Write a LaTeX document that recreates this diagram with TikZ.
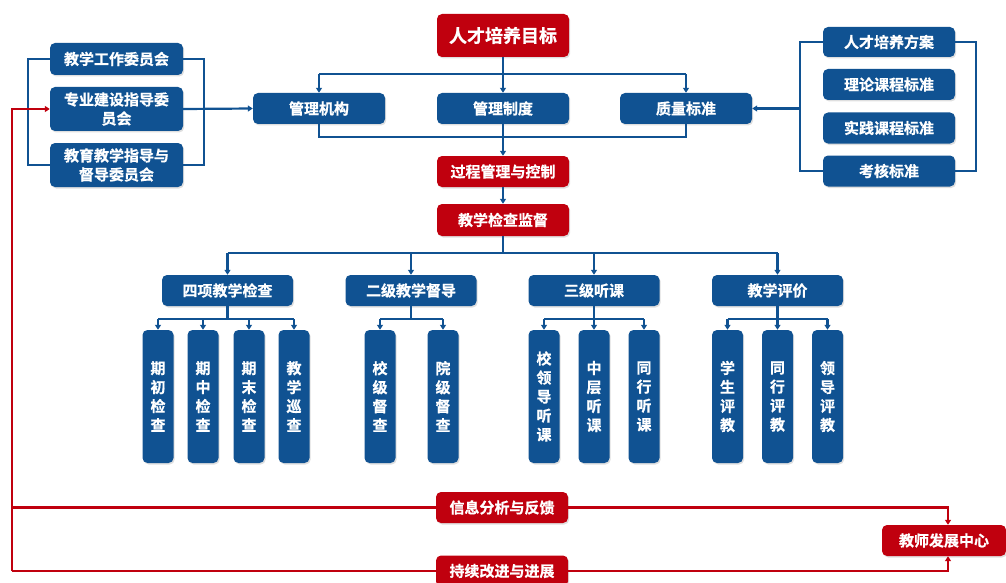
\documentclass[tikz,border=0pt]{standalone}
\usepackage{fontspec}
\newfontfamily\cjk[FakeBold=0.7]{Noto Sans CJK SC Bold}
\usetikzlibrary{arrows.meta,shadows}
\definecolor{myblue}{RGB}{16,82,146}
\definecolor{myred}{RGB}{192,0,14}
\begin{document}
\begin{tikzpicture}[x=1pt,y=-1pt,
  box/.style={rounded corners=5pt, text=white, inner sep=0pt, align=center,
    minimum width=132pt, minimum height=31pt,
    font=\cjk\fontsize{15}{19}\selectfont,
    drop shadow={shadow xshift=1.2pt, shadow yshift=-1.5pt, opacity=0.25}},
  bbx/.style={box, fill=myblue},
  rbx/.style={box, fill=myred},
  leaf/.style={bbx, minimum width=31pt, minimum height=133pt},
  bl/.style={draw=myblue, line width=2.2pt},
  rl/.style={draw=myred, line width=2.3pt},
  arr/.style={-{Triangle[length=5pt,width=6pt]}}
]
\useasboundingbox (0,0) rectangle (1006,583);

% top part
\node[rbx, minimum height=43pt, font=\cjk\fontsize{18}{20}\selectfont] (goal) at (503,35.5) {人才培养目标};
\node[bbx] (jg) at (319,108.5) {管理机构};
\node[bbx] (zd) at (503,108.5) {管理制度};
\node[bbx] (bz) at (686,108.5) {质量标准};
\node[rbx] (gc) at (503,171.5) {过程管理与控制};
\node[rbx, minimum height=32pt] (jc) at (503,220) {教学检查监督};

% left group
\node[bbx, minimum width=133pt, minimum height=32pt] (l1) at (116.5,59) {教学工作委员会};
\node[bbx, minimum width=133pt, minimum height=44pt] (l2) at (116.5,109) {专业建设指导委\\员会};
\node[bbx, minimum width=133pt, minimum height=44pt] (l3) at (116.5,165) {教育教学指导与\\督导委员会};

% right group
\node[bbx, minimum height=30pt] (r1) at (889,42) {人才培养方案};
\node[bbx] (r2) at (889,84.5) {理论课程标准};
\node[bbx] (r3) at (889,128) {实践课程标准};
\node[bbx] (r4) at (889,171) {考核标准};

% level 2
\node[bbx, minimum width=131pt] (a) at (227.5,290.5) {四项教学检查};
\node[bbx, minimum width=131pt] (b) at (411,290.5) {二级教学督导};
\node[bbx, minimum width=131pt] (c) at (594,290.5) {三级听课};
\node[bbx, minimum width=131pt] (d) at (777.5,290.5) {教学评价};

% leaves
\node[leaf] (a1) at (158,396.5) {期\\初\\检\\查};
\node[leaf] (a2) at (203,396.5) {期\\中\\检\\查};
\node[leaf] (a3) at (249,396.5) {期\\末\\检\\查};
\node[leaf] (a4) at (294,396.5) {教\\学\\巡\\查};
\node[leaf] (b1) at (380,396.5) {校\\级\\督\\查};
\node[leaf] (b2) at (443,396.5) {院\\级\\督\\查};
\node[leaf] (c1) at (544,396.5) {校\\领\\导\\听\\课};
\node[leaf] (c2) at (594,396.5) {中\\层\\听\\课};
\node[leaf] (c3) at (644,396.5) {同\\行\\听\\课};
\node[leaf] (d1) at (727.5,396.5) {学\\生\\评\\教};
\node[leaf] (d2) at (777.5,396.5) {同\\行\\评\\教};
\node[leaf] (d3) at (827.5,396.5) {领\\导\\评\\教};

% bottom
\node[rbx] (info) at (502,507.5) {信息分析与反馈};
\node[rbx] (cont) at (502,571) {持续改进与进展};
\node[rbx, minimum width=124pt] (tdc) at (944,540.5) {教师发展中心};

% coordinates
\coordinate (t1) at (319,74);
\coordinate (t3) at (686,74);
\coordinate (u1) at (319,137);
\coordinate (u3) at (686,137);
\coordinate (lbl) at (28,110);
\coordinate (lbr) at (204,110);
\coordinate (rbl) at (800,108.5);
\coordinate (rbr) at (976,108.5);
\coordinate (m) at (503,253);
\coordinate (ma) at (227.5,253);
\coordinate (md) at (777.5,253);
\coordinate (ay) at (227.5,319);
\coordinate (by) at (411,319);
\coordinate (cy) at (594,319);
\coordinate (dy) at (777.5,319);
\coordinate (rc1) at (12,507.5);
\coordinate (rc2) at (12,571);
\coordinate (re1) at (948,507.5);
\coordinate (re2) at (948,571);

% blue connectors top
\draw[bl] (t1) -- (t3);
\draw[bl,arr] (goal) -- (zd);
\draw[bl,arr] (t1) -- (jg.north);
\draw[bl,arr] (t3) -- (bz.north);
\draw[bl] (jg.south) -- (u1) -- (u3) -- (bz.south);
\draw[bl,arr] (zd) -- (gc);
\draw[bl,arr] (gc) -- (jc);

% brackets
\draw[bl] (l1.east) -| (lbr) |- (l3.east);
\draw[bl] (l1.west) -| (lbl) |- (l3.west);
\draw[bl,arr] (l2.east) -- (jg.west);
\draw[bl] (r1.west) -| (rbl) |- (r4.west);
\draw[bl] (r1.east) -| (rbr) |- (r4.east);
\draw[bl,arr] (rbl) -- (bz.east);

% level 2
\draw[bl] (jc.south) -- (m);
\draw[bl] (ma) -- (md);
\foreach \n in {a,b,c,d} \draw[bl,arr] (\n.north |- m) -- (\n.north);

% leaves
\draw[bl] (a.south) -- (ay);
\draw[bl] (a1.north |- ay) -- (a4.north |- ay);
\foreach \n in {a1,a2,a3,a4} \draw[bl,arr] (\n.north |- ay) -- (\n.north);
\draw[bl] (b.south) -- (by);
\draw[bl] (b1.north |- by) -- (b2.north |- by);
\foreach \n in {b1,b2} \draw[bl,arr] (\n.north |- by) -- (\n.north);
\draw[bl] (c.south) -- (cy);
\draw[bl] (c1.north |- cy) -- (c3.north |- cy);
\foreach \n in {c1,c2,c3} \draw[bl,arr] (\n.north |- cy) -- (\n.north);
\draw[bl] (d.south) -- (dy);
\draw[bl] (d1.north |- dy) -- (d3.north |- dy);
\foreach \n in {d1,d2,d3} \draw[bl,arr] (\n.north |- dy) -- (\n.north);

% red loop
\draw[rl] (rc1) -- (info.west);
\draw[rl,arr] (info.east) -- (re1) -- (re1 |- tdc.north);
\draw[rl] (rc2) -- (cont.west);
\draw[rl,arr] (cont.east) -- (re2) -- (re2 |- tdc.south);
\draw[rl,arr] (rc2) |- (l2.west);
\end{tikzpicture}
\end{document}
